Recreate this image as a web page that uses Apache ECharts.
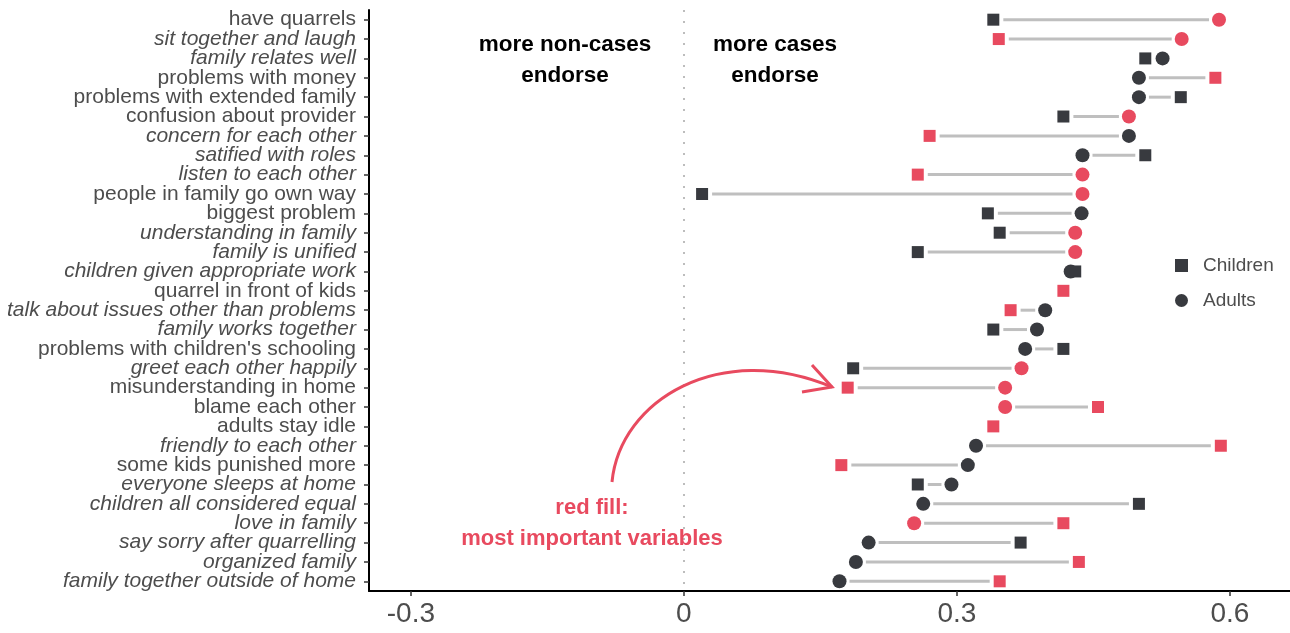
<!DOCTYPE html>
<html>
<head>
<meta charset="utf-8">
<script src="https://cdn.jsdelivr.net/npm/echarts@6/dist/echarts.min.js"></script>
<style>html,body{margin:0;padding:0;background:#fff}#c{width:1290px;height:633px}</style>
</head>
<body>
<div id="c"></div>
<script>
const categories = [
  "have quarrels","sit together and laugh","family relates well","problems with money",
  "problems with extended family","confusion about provider","concern for each other",
  "satified with roles","listen to each other","people in family go own way","biggest problem",
  "understanding in family","family is unified","children given appropriate work",
  "quarrel in front of kids","talk about issues other than problems","family works together",
  "problems with children's schooling","greet each other happily","misunderstanding in home",
  "blame each other","adults stay idle","friendly to each other","some kids punished more",
  "everyone sleeps at home","children all considered equal","love in family",
  "say sorry after quarrelling","organized family","family together outside of home"
];
const italicLabel = [0,1,1,0,0,0,1,1,1,0,0,1,1,1,0,1,1,0,1,0,0,0,1,0,1,1,1,1,1,1];
const childrenValues = [0.340,0.346,0.507,0.584,0.546,0.417,0.270,0.507,0.257,0.020,0.334,0.347,0.257,0.430,0.417,0.359,0.340,0.417,0.186,0.180,0.455,0.340,0.590,0.173,0.257,0.500,0.417,0.370,0.434,0.347];
const adultsValues   = [0.588,0.547,0.526,0.500,0.500,0.489,0.489,0.438,0.438,0.438,0.437,0.430,0.430,0.425,null,0.397,0.388,0.375,0.371,0.353,0.353,null,0.321,0.312,0.294,0.263,0.253,0.203,0.189,0.171];
const childrenImportant = [0,1,0,1,0,0,1,0,1,0,0,0,0,0,1,1,0,0,0,1,1,1,1,1,0,0,1,0,1,1];
const adultsImportant   = [1,1,0,0,0,1,0,0,1,1,0,1,1,0,0,0,0,0,1,1,1,0,0,0,0,0,1,0,0,0];
const xTickValues = [-0.3, 0, 0.3, 0.6];

const RED = '#e84a5f', DARK = '#383a3f', FONT = '"Liberation Sans", Arial, sans-serif';
const chart = echarts.init(document.getElementById('c'), null, {renderer:'canvas'});

const segData = [];
categories.forEach((c, i) => {
  if (childrenValues[i] != null && adultsValues[i] != null) segData.push([childrenValues[i], adultsValues[i], i]);
});
const adultData = [];
adultsValues.forEach((v, i) => {
  if (v != null) adultData.push({value: [v, i], itemStyle: {color: adultsImportant[i] ? RED : DARK}});
});
const childData = [];
childrenValues.forEach((v, i) => {
  if (v != null) childData.push({value: [v, i], itemStyle: {color: childrenImportant[i] ? RED : DARK}});
});

const option = {
  animation: false,
  backgroundColor: '#fff',
  grid: {left: 369, right: 0, top: 10, bottom: 42, containLabel: false},
  xAxis: {
    type: 'value', min: -0.346, max: 0.666,
    splitLine: {show: false},
    axisLine: {show: true, onZero: false, lineStyle: {color: '#000', width: 2}},
    axisTick: {show: true, length: 5, lineStyle: {color: '#333', width: 1.5}, customValues: xTickValues},
    axisLabel: {customValues: xTickValues, fontSize: 28, color: '#4d4d4d', fontFamily: FONT, margin: 9,
      formatter: v => String(Math.round(v*10)/10)}
  },
  yAxis: {
    type: 'category', data: categories, inverse: true,
    axisLine: {show: true, onZero: false, lineStyle: {color: '#000', width: 2}},
    axisTick: {show: true, length: 5, alignWithLabel: true, lineStyle: {color: '#333', width: 1.5}},
    splitLine: {show: false},
    axisLabel: {
      margin: 13, interval: 0,
      formatter: (v, i) => (italicLabel[i] ? '{i|' : '{n|') + v + '}',
      rich: {
        n: {fontSize: 21, color: '#4d4d4d', fontFamily: FONT},
        i: {fontSize: 21, color: '#4d4d4d', fontFamily: FONT, fontStyle: 'italic'}
      }
    }
  },
  legend: {
    orient: 'vertical', left: 1170, top: 251, itemWidth: 13, itemHeight: 13, itemGap: 16,
    textStyle: {fontSize: 19, color: '#4d4d4d', fontFamily: FONT, padding: [0,0,0,10]},
    data: [{name: 'Children', icon: 'rect'}, {name: 'Adults', icon: 'circle'}]
  },
  series: [
    {
      type: 'custom', name: 'seg', silent: true, z: 1,
      encode: {x: [0, 1], y: 2},
      data: segData,
      renderItem: (params, api) => {
        const p1 = api.coord([api.value(0), api.value(2)]);
        const p2 = api.coord([api.value(1), api.value(2)]);
        const xa = Math.min(p1[0], p2[0]) + 10, xb = Math.max(p1[0], p2[0]) - 10;
        if (!(xb > xa)) return null;
        return {type: 'line', shape: {x1: xa, y1: p1[1], x2: xb, y2: p1[1]},
          style: {stroke: '#bfbfbf', lineWidth: 3}};
      }
    },
    {
      type: 'scatter', name: 'Adults', symbol: 'circle', symbolSize: 14, z: 3,
      itemStyle: {color: DARK, opacity: 1},
      data: adultData,
      markLine: {
        silent: true, symbol: 'none', label: {show: false},
        lineStyle: {type: [2, 9], color: '#bdbdbd', width: 2},
        data: [{xAxis: 0}]
      }
    },
    {
      type: 'scatter', name: 'Children', symbol: 'rect', symbolSize: 12, z: 4,
      itemStyle: {color: DARK, opacity: 1},
      data: childData
    }
  ],
  graphic: [
    {type: 'text', z: 10, style: {text: 'more non-cases', x: 565, y: 45, align: 'center', verticalAlign: 'middle', font: 'bold 22.5px ' + FONT, fill: '#000'}},
    {type: 'text', z: 10, style: {text: 'endorse', x: 565, y: 76, align: 'center', verticalAlign: 'middle', font: 'bold 22.5px ' + FONT, fill: '#000'}},
    {type: 'text', z: 10, style: {text: 'more cases', x: 775, y: 45, align: 'center', verticalAlign: 'middle', font: 'bold 22.5px ' + FONT, fill: '#000'}},
    {type: 'text', z: 10, style: {text: 'endorse', x: 775, y: 76, align: 'center', verticalAlign: 'middle', font: 'bold 22.5px ' + FONT, fill: '#000'}},
    {type: 'text', z: 10, style: {text: 'red fill:', x: 592, y: 508, align: 'center', verticalAlign: 'middle', font: 'bold 22px ' + FONT, fill: RED}},
    {type: 'text', z: 10, style: {text: 'most important variables', x: 592, y: 539, align: 'center', verticalAlign: 'middle', font: 'bold 22px ' + FONT, fill: RED}},
    {type: 'bezierCurve', z: 10, shape: {x1: 612, y1: 482, cpx1: 620, cpy1: 400, cpx2: 720, cpy2: 340, x2: 832, y2: 387},
      style: {stroke: RED, lineWidth: 3, fill: null}},
    {type: 'polyline', z: 10, shape: {points: [[812, 365], [832, 387], [802, 392]]},
      style: {stroke: RED, lineWidth: 3, fill: null, lineJoin: 'miter'}}
  ]
};
chart.setOption(option);
</script>
</body>
</html>
